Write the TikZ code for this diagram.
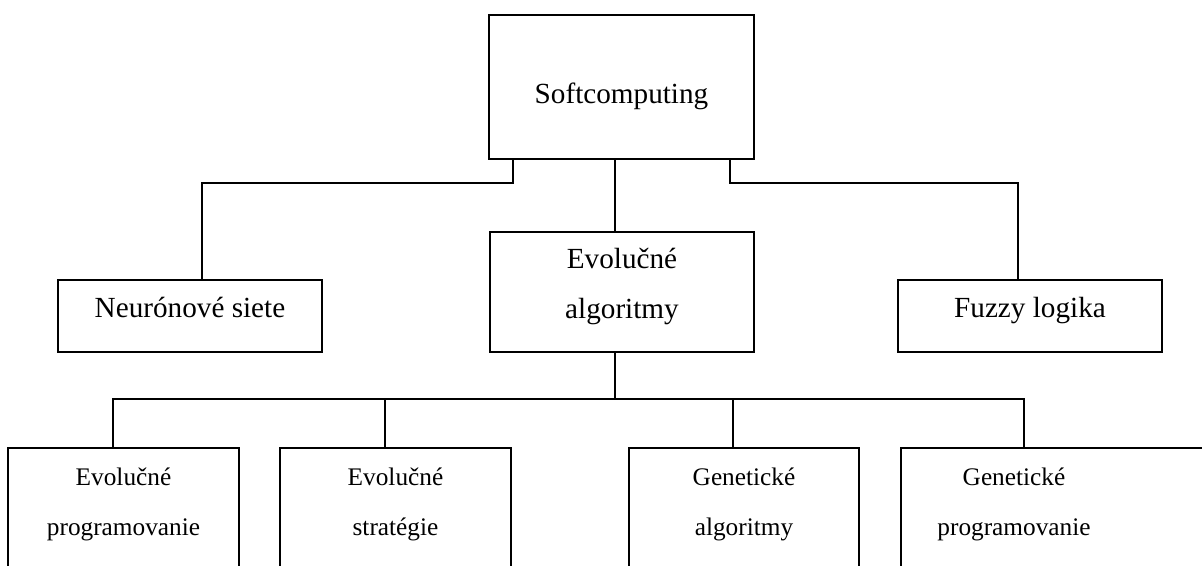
\documentclass[tikz,border=0pt]{standalone}
\usepackage{fontspec}
\setmainfont{Liberation Serif}
\usetikzlibrary{calc}
\begin{document}
\begin{tikzpicture}[x=1pt,y=-1pt,
  box/.style={draw, line width=1.4pt, rectangle, inner sep=0pt, outer sep=0pt},
  link/.style={line width=1.4pt},
  bigtxt/.style={inner sep=0pt, align=center, anchor=base, font=\fontsize{29.2}{50}\selectfont},
  smalltxt/.style={inner sep=0pt, align=center, anchor=base, font=\fontsize{25.3}{50}\selectfont}]
\useasboundingbox (0,0) rectangle (1202,565);
\clip (0,0) rectangle (1202,565);
% boxes
\node[box, minimum width=265pt, minimum height=144pt] (soft) at (621.5,87) {};
\node[box, minimum width=264pt, minimum height=72pt] (neur) at (190,316) {};
\node[box, minimum width=264pt, minimum height=120pt] (evol) at (622,292) {};
\node[box, minimum width=264pt, minimum height=72pt] (fuzzy) at (1030,316) {};
\node[box, minimum width=231pt, minimum height=172pt] (b1) at (123.5,534) {};
\node[box, minimum width=231pt, minimum height=172pt] (b2) at (395.5,534) {};
\node[box, minimum width=230pt, minimum height=172pt] (b3) at (744,534) {};
\node[box, minimum width=400pt, minimum height=172pt] (b4) at (1101,534) {};
% texts
\node[bigtxt] (tsoft) at (621.5,103) {Softcomputing};
\node[bigtxt] (tneur) at (190,317) {Neurónové siete};
\node[bigtxt] (tfuzzy) at (1030,317) {Fuzzy logika};
\node[bigtxt] (tevol) at (622,318) {Evolučné\\algoritmy};
\node[smalltxt] (tb1) at (123.5,535) {Evolučné\\programovanie};
\node[smalltxt] (tb2) at (395.5,535) {Evolučné\\stratégie};
\node[smalltxt] (tb3) at (744,535) {Genetické\\algoritmy};
\node[smalltxt] (tb4) at (1014,535) {Genetické\\programovanie};
% connectors
\coordinate (m) at (615,0);
\coordinate (bus) at (615,399);
\draw[link] (soft.south -| m) -- (evol.north -| m);
\draw[link] ($(soft.south west)+(24,0)$) -- ++(0,24) -| ($(neur.north)+(12,0)$);
\draw[link] ($(soft.south east)+(-24,0)$) -- ++(0,24) -| ($(fuzzy.north)+(-12,0)$);
\draw[link] (evol.south -| m) -- (bus);
\draw[link] (bus) -| ($(b1.north)+(-10.5,0)$);
\draw[link] (bus) -| ($(b4.north west)+(123,0)$);
\draw[link] ($(b2.north)+(-10.5,0)$) -- ++(0,-49);
\draw[link] ($(b3.north)+(-11,0)$) -- ++(0,-49);
\end{tikzpicture}
\end{document}
